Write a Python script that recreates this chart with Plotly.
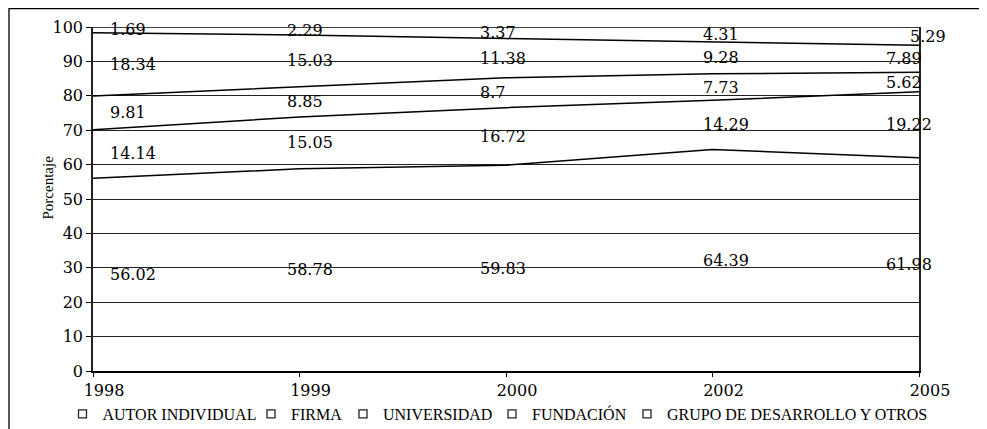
import plotly.graph_objects as go

years = ["1998", "1999", "2000", "2002", "2005"]
series_names = ["AUTOR INDIVIDUAL", "FIRMA", "UNIVERSIDAD", "FUNDACIÓN",
                "GRUPO DE DESARROLLO Y OTROS"]
autor = [56.02, 58.78, 59.83, 64.39, 61.98]
firma = [14.14, 15.05, 16.72, 14.29, 19.22]
universidad = [9.81, 8.85, 8.7, 7.73, 5.62]
fundacion = [18.34, 15.03, 11.38, 9.28, 7.89]
grupo = [1.69, 2.29, 3.37, 4.31, 5.29]
y_ticks = list(range(0, 101, 10))

series = [autor, firma, universidad, fundacion, grupo]

# the page body adds an 8px offset, so the figure is 8px smaller
OFF = 8
W, H = 987 - OFF, 429 - OFF
ML, MR, MT, MB = 93 - OFF, 68, 27 - OFF, 58
PW, PH = W - ML - MR, H - MT - MB


def px_x(sx):
    """screen x -> paper x"""
    return (sx - OFF - ML) / PW


def px_y(sy):
    """screen y -> paper y"""
    return (MT + PH - (sy - OFF)) / PH


SERIF = "DejaVu Serif, Liberation Serif, serif"
TIMES = "Liberation Serif, Times New Roman, serif"

# legend entry widths (px) so entries sit like the reference
legend_widths = [143.5, 47, 104, 90, None]

fig = go.Figure()

for name, vals in zip(series_names, series):
    fig.add_trace(go.Scatter(
        x=years, y=vals, name=name, stackgroup="one", mode="lines",
        line=dict(color="black", width=1.5),
        fillcolor="rgba(255,255,255,0)", showlegend=False,
        hoverinfo="skip"))

for name, lw in zip(series_names, legend_widths):
    fig.add_trace(go.Scatter(
        x=[None], y=[None], name=name, mode="markers",
        marker=dict(symbol="square", size=8, color="white",
                    line=dict(color="#222", width=1.3)),
        legendwidth=lw, showlegend=True))

# data labels, centred vertically in each band (x given as category index)
label_xshift = {0: 15, 1: -15, 2: -28, 3: -12, 4: -35}
override = {(4, 4): -11}
annotations = []
for j, yr in enumerate(years):
    base = 0.0
    for i, vals in enumerate(series):
        v = vals[j]
        annotations.append(dict(
            x=j, y=base + v / 2, xref="x", yref="y", text=f"{v:g}",
            showarrow=False, xanchor="left", yanchor="middle",
            xshift=override.get((i, j), label_xshift[j]),
            font=dict(family=SERIF, size=16, color="black")))
        base += v

annotations.append(dict(
    x=px_x(47), y=px_y(187.5), xref="paper", yref="paper",
    text="Porcentaje", textangle=-90, showarrow=False,
    xanchor="center", yanchor="middle",
    font=dict(family=TIMES, size=15, color="black")))

fig.update_layout(
    width=W, height=H,
    margin=dict(l=ML, r=MR, t=MT, b=MB, pad=0, autoexpand=False),
    paper_bgcolor="white", plot_bgcolor="white",
    annotations=annotations,
    showlegend=True,
    legend=dict(orientation="h", x=px_x(62.5), y=px_y(414),
                xanchor="left", yanchor="middle", traceorder="normal",
                font=dict(family=TIMES, size=16, color="black"),
                itemwidth=30, bgcolor="rgba(0,0,0,0)", borderwidth=0),
    shapes=[dict(type="rect", xref="paper", yref="paper",
                 x0=px_x(9), x1=px_x(1000),
                 y0=px_y(450), y1=px_y(OFF + 0.7),
                 line=dict(color="black", width=1.3))],
)

fig.update_xaxes(
    type="category", range=[0, len(years) - 1],
    showline=True, linecolor="black", linewidth=1.5,
    ticks="outside", ticklen=4, tickcolor="black",
    ticklabelshift=11,
    showgrid=False, zeroline=False,
    tickfont=dict(family=SERIF, size=16, color="black"))

fig.update_yaxes(
    range=[0, 100], tickvals=y_ticks,
    showline=True, linecolor="#222", linewidth=1.5, mirror=True,
    ticks="outside", ticklen=5, tickcolor="black",
    showgrid=True, gridcolor="#222", gridwidth=1, zeroline=False,
    tickfont=dict(family=SERIF, size=16, color="black"))

fig.write_html("out.html")
